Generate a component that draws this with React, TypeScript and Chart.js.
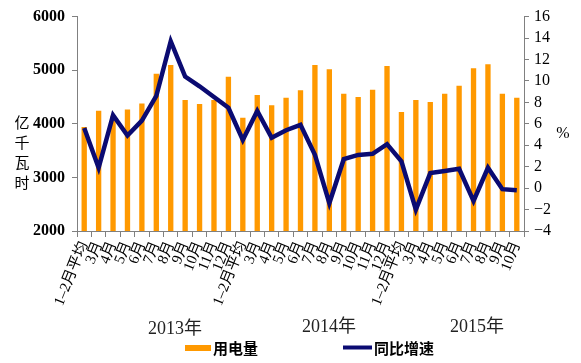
import { useEffect, useRef } from 'react';
import { Chart, registerables } from 'chart.js';
Chart.register(...registerables);

const months2013 = ['1–2月平均', '3月', '4月', '5月', '6月', '7月', '8月', '9月', '10月', '11月', '12月'];
const months2014 = ['1–2月平均', '3月', '4月', '5月', '6月', '7月', '8月', '9月', '10月', '11月', '12月'];
const months2015 = ['1–2月平均', '3月', '4月', '5月', '6月', '7月', '8月', '9月', '10月'];
const categories = [...months2013, ...months2014, ...months2015];

const consumption = [
  3940, 4245, 4150, 4265, 4380, 4935, 5095, 4445, 4370, 4445, 4880,
  4115, 4535, 4345, 4485, 4625, 5095, 5020, 4560, 4500, 4635, 5080,
  4220, 4445, 4405, 4560, 4710, 5035, 5110, 4560, 4485,
];
const growth = [
  5.6, 1.9, 6.8, 4.9, 6.3, 8.6, 13.7, 10.4, 9.5, 8.5, 7.5,
  4.5, 7.2, 4.7, 5.4, 5.9, 3.1, -1.4, 2.7, 3.1, 3.2, 4.1,
  2.5, -2.0, 1.4, 1.6, 1.8, -1.2, 1.9, -0.1, -0.2,
];
const yearLabels = ['2013年', '2014年', '2015年'];
const leftTitle = ['亿', '千', '瓦', '时'];
const rightTitle = '%';
const legendBar = '用电量';
const legendLine = '同比增速';

const ORANGE = '#ff9900';
const NAVY = '#0b0b72';
const AXIS = '#808080';
const SERIF = '"Liberation Serif", "Noto Sans CJK SC", serif';
const CJK = '"Noto Sans CJK SC", sans-serif';

const extras = {
  id: 'extras',
  afterDraw(chart: any) {
    const ctx = chart.ctx;
    ctx.save();
    ctx.fillStyle = '#000';
    ctx.textAlign = 'center';
    ctx.textBaseline = 'middle';
    ctx.font = `15px ${CJK}`;
    leftTitle.forEach((c, i) => ctx.fillText(c, 22, 122 + i * 20));
    ctx.font = `16px ${SERIF}`;
    ctx.fillText(rightTitle, 563, 134);

    ctx.textAlign = 'left';
    ctx.fillStyle = '#222';
    ctx.font = `18px ${SERIF}`;
    const yearPos = [[148, 329], [302, 327], [450, 327]];
    yearLabels.forEach((t, i) => ctx.fillText(t, yearPos[i][0], yearPos[i][1]));

    // legend
    ctx.fillStyle = ORANGE;
    ctx.fillRect(185, 345, 26, 6);
    ctx.fillStyle = '#000';
    ctx.font = `bold 15px ${CJK}`;
    ctx.fillText(legendBar, 213, 348);
    ctx.strokeStyle = NAVY;
    ctx.lineWidth = 4;
    ctx.beginPath();
    ctx.moveTo(343, 347.5);
    ctx.lineTo(372, 347.5);
    ctx.stroke();
    ctx.fillText(legendLine, 374, 348);
    ctx.restore();
  },
};

export default function App() {
  const ref = useRef<HTMLCanvasElement | null>(null);
  useEffect(() => {
    if (!ref.current) return;
    const chart = new Chart(ref.current, {
      type: 'bar',
      data: {
        labels: categories,
        datasets: [
          {
            type: 'line',
            label: legendLine,
            data: growth,
            yAxisID: 'y1',
            borderColor: NAVY,
            backgroundColor: NAVY,
            borderWidth: 4.5,
            pointRadius: 0,
            tension: 0,
            order: 0,
          } as any,
          {
            type: 'bar',
            label: legendBar,
            data: consumption,
            yAxisID: 'y',
            backgroundColor: ORANGE,
            barPercentage: 0.37,
            categoryPercentage: 1,
            order: 1,
          },
        ],
      },
      options: {
        responsive: false,
        animation: false,
        devicePixelRatio: 1,
        layout: { padding: { left: 0, right: 0, top: 14, bottom: 0 } },
        plugins: { legend: { display: false }, tooltip: { enabled: false } },
        scales: {
          x: {
            offset: true,
            grid: { offset: true, drawOnChartArea: false, drawTicks: true, tickLength: 6, color: AXIS },
            border: { display: true, color: AXIS },
            ticks: {
              autoSkip: false,
              minRotation: 68,
              maxRotation: 68,
              padding: 2,
              color: '#000',
              font: { family: SERIF, size: 15 },
            },
            afterFit: (s: any) => { s.height = 132; },
          },
          y: {
            position: 'left',
            min: 2000,
            max: 6000,
            grid: { drawOnChartArea: false, drawTicks: true, tickLength: 5, color: AXIS },
            border: { display: true, color: AXIS },
            ticks: {
              stepSize: 1000,
              autoSkip: false,
              padding: 7,
              color: '#000',
              font: { family: SERIF, size: 16, weight: 'bold' },
              callback: (v: any) => String(v),
            },
            afterFit: (s: any) => { s.width = 77; },
          },
          y1: {
            position: 'right',
            min: -4,
            max: 16,
            grid: { drawOnChartArea: false, drawTicks: true, tickLength: 5, color: AXIS },
            border: { display: true, color: AXIS },
            ticks: {
              stepSize: 2,
              autoSkip: false,
              padding: 5,
              color: '#000',
              font: { family: SERIF, size: 16 },
              callback: (v: any) => String(v).replace('-', '−'),
            },
            afterFit: (s: any) => { s.width = 57; },
          },
        },
      },
      plugins: [extras],
    });
    return () => chart.destroy();
  }, []);
  return (
    <div style={{ position: 'fixed', left: 0, top: 0, width: 581, height: 363, background: '#fff' }}>
      <canvas ref={ref} width={581} height={363} />
    </div>
  );
}
